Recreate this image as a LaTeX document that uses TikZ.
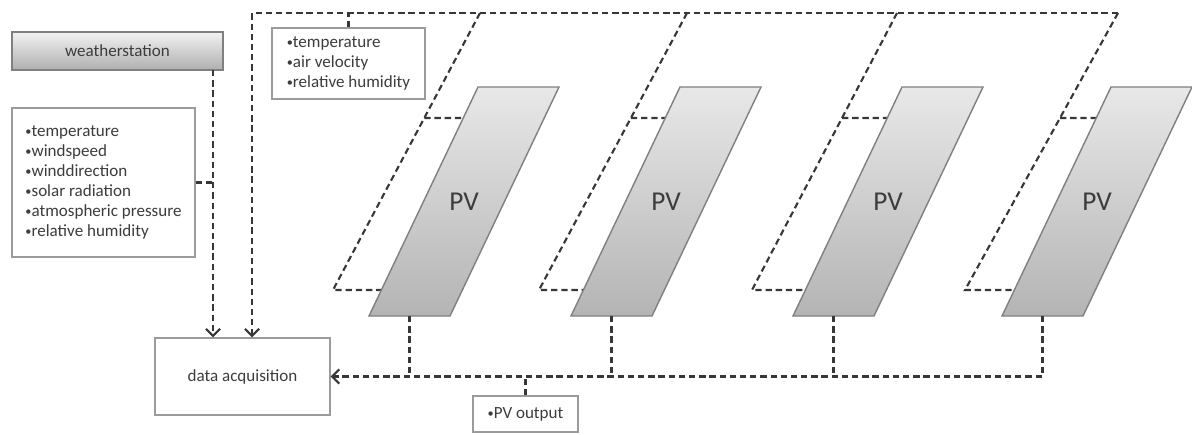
\documentclass[tikz,border=0pt]{standalone}
\usepackage{fontspec}
\setmainfont{Carlito}
\usetikzlibrary{positioning,arrows.meta,calc}
\definecolor{txtgray}{RGB}{60,60,60}
\definecolor{linegray}{RGB}{55,55,55}
\definecolor{boxbdr}{RGB}{155,155,155}
\definecolor{pvbdr}{RGB}{128,128,128}
\definecolor{pvtop}{RGB}{232,232,232}
\definecolor{pvbot}{RGB}{180,180,180}
\definecolor{wstop}{RGB}{242,242,242}
\definecolor{wsbot}{RGB}{175,175,175}
\newcommand{\bul}{\raisebox{0.6pt}{\fontsize{7}{7}\selectfont•}}

\begin{document}
\begin{tikzpicture}[font=\fontsize{9.7}{11.4}\selectfont\color{txtgray}]
\tikzset{
  BX/.style={draw=boxbdr,fill=white,thick,rectangle,align=left,inner sep=3pt},
  WS/.style={draw=pvbdr,top color=wstop,bottom color=wsbot,thick,rectangle,minimum width=4.22cm,minimum height=0.76cm},
  PVS/.style={draw=pvbdr,top color=pvtop,bottom color=pvbot,thick},
  PL/.style={font=\fontsize{15.5}{18}\selectfont\color{txtgray}},
  DL/.style={draw=linegray,line width=1.2pt,dash pattern=on 3.6pt off 2.2pt},
  DA/.style={DL,-{Straight Barb[length=4pt,width=8pt]}},
}
\useasboundingbox (0,0) rectangle (23.84,8.68);

\node[WS](ws) at (2.35,7.66){weatherstation};
\node[BX,minimum width=3.66cm,minimum height=2.98cm](wlist) at (2.07,5.03){%
  \bul temperature\\\bul windspeed\\\bul winddirection\\\bul solar radiation\\\bul atmospheric pressure\\\bul relative humidity};
\node[BX,minimum width=3.06cm,minimum height=1.42cm](slist) at (6.97,7.41){%
  \bul temperature\\\bul air velocity\\\bul relative humidity};
\node[BX,minimum width=3.5cm,minimum height=1.54cm,align=center](dacq) at (4.85,1.15){data acquisition};
\node[BX,minimum width=2.1cm,minimum height=0.72cm,align=center](pvout) at (10.51,0.4){\bul PV output};

% back planes of the modules
\coordinate (tl)  at (5.04,8.42);
\coordinate (p1t) at (9.60,8.42);  \coordinate (p1b) at (6.66,2.88);
\coordinate (p2t) at (13.74,8.42); \coordinate (p2b) at (10.78,2.88);
\coordinate (p3t) at (17.94,8.42); \coordinate (p3b) at (15.04,2.88);
\coordinate (p4t) at (22.36,8.42); \coordinate (p4b) at (19.30,2.88);

\draw[DL](p1t)--(p1b)--(7.63,2.88);
\draw[DL]($(p1t)!0.379!(p1b)$)--(9.27,6.32);
\draw[DL](p2t)--(p2b)--(11.67,2.88);
\draw[DL]($(p2t)!0.379!(p2b)$)--(13.31,6.32);
\draw[DL](p3t)--(p3b)--(16.11,2.88);
\draw[DL]($(p3t)!0.379!(p3b)$)--(17.75,6.32);
\draw[DL](p4t)--(p4b)--(20.29,2.88);
\draw[DL]($(p4t)!0.379!(p4b)$)--(21.93,6.32);

% PV modules
\shadedraw[PVS](7.38,2.36)--(9.00,2.36)--(11.18,6.94)--(9.56,6.94)--cycle;
\node[PL](pv1) at (9.28,4.65){PV};
\coordinate (pv1b) at (8.19,2.36);
\shadedraw[PVS](11.42,2.36)--(13.04,2.36)--(15.22,6.94)--(13.60,6.94)--cycle;
\node[PL](pv2) at (13.32,4.65){PV};
\coordinate (pv2b) at (12.23,2.36);
\shadedraw[PVS](15.86,2.36)--(17.48,2.36)--(19.66,6.94)--(18.04,6.94)--cycle;
\node[PL](pv3) at (17.76,4.65){PV};
\coordinate (pv3b) at (16.67,2.36);
\shadedraw[PVS](20.04,2.36)--(21.66,2.36)--(23.84,6.94)--(22.22,6.94)--cycle;
\node[PL](pv4) at (21.94,4.65){PV};
\coordinate (pv4b) at (20.85,2.36);

% weather station
\coordinate (wsout) at (4.26,7.28);
\draw[DA](wsout)--(wsout |- dacq.north);
\draw[DL](wlist.east)--(wlist.east -| wsout);

% module sensors
\draw[DA](p4t)--(tl)--(tl |- dacq.north);
\draw[DL](slist.north)--(slist.north |- tl);

% PV output
\draw[DA](pv4b)--(pv4b |- dacq.east)--(dacq.east);
\draw[DL](pv1b)--(pv1b |- dacq.east);
\draw[DL](pv2b)--(pv2b |- dacq.east);
\draw[DL](pv3b)--(pv3b |- dacq.east);
\draw[DL](pvout.north)--(pvout.north |- dacq.east);

\end{tikzpicture}
\end{document}
